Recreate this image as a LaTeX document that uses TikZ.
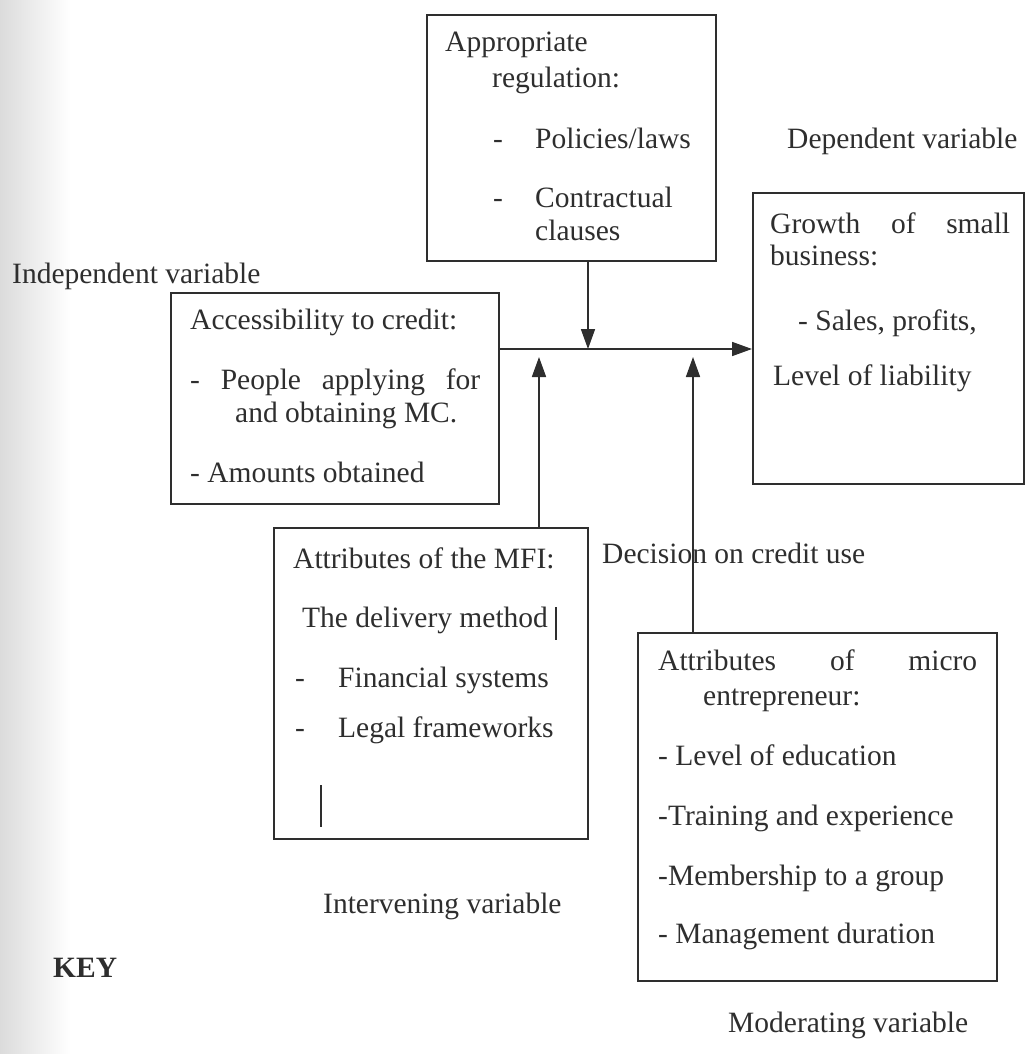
\documentclass[tikz,border=0pt]{standalone}
\usepackage{fontspec}
\setmainfont{Liberation Serif}
\usetikzlibrary{arrows.meta}
\definecolor{ink}{HTML}{2E2E2E}
\tikzset{
  txt/.style={anchor=base west, inner sep=0pt, text=ink, font=\fontsize{29.5}{34}\selectfont},
  frame/.style={draw=ink, line width=1.7pt, rectangle, inner sep=0pt, anchor=north west},
  conn/.style={draw=ink, line width=1.7pt},
  arr/.style={conn, -{Triangle[length=20pt,width=14pt]}}
}
\begin{document}
\begin{tikzpicture}[x=1pt,y=-1pt]
\useasboundingbox (0,0) rectangle (1026,1054);
\shade[left color=black!14, right color=white] (0,0) rectangle (70,1054);

% boxes
\node[frame, minimum width=289pt, minimum height=246pt] (reg) at (426,14) {};
\node[frame, minimum width=271pt, minimum height=291pt] (grow) at (752,192) {};
\node[frame, minimum width=328pt, minimum height=211pt] (acc) at (170,292) {};
\node[frame, minimum width=314pt, minimum height=311pt] (mfi) at (273,527) {};
\node[frame, minimum width=359pt, minimum height=348pt] (ent) at (637,632) {};

% regulation texts
\node[txt] (r1) at (445,52) {Appropriate};
\node[txt] (r2) at (492,88) {regulation:};
\node[txt] (r3) at (493,148) {\makebox[42pt][l]{-}Policies/laws};
\node[txt] (r4) at (493,207) {\makebox[42pt][l]{-}Contractual};
\node[txt] (r5) at (535,240) {clauses};

% dependent
\node[txt] (dep) at (787,148) {Dependent variable};
\node[txt] (g1) at (770,233) {\makebox[240pt][s]{Growth of small}};
\node[txt] (g2) at (770,265) {business:};
\node[txt] (g3) at (798,330) {- Sales, profits,};
\node[txt] (g4) at (773,385) {Level of liability};

% independent
\node[txt] (ind) at (12,283) {Independent variable};
\node[txt] (a1) at (190,329) {Accessibility to credit:};
\node[txt] (a2) at (190,389) {\makebox[290pt][s]{- People applying for}};
\node[txt] (a3) at (235,422) {and obtaining MC.};
\node[txt] (a4) at (190,482) {- Amounts obtained};

% MFI
\node[txt] (m1) at (293,568) {Attributes of the MFI:};
\node[txt] (m2) at (302,627) {The delivery method};
\node[txt] (m3) at (295,687) {\makebox[43pt][l]{-}Financial systems};
\node[txt] (m4) at (295,737) {\makebox[43pt][l]{-}Legal frameworks};
\coordinate (bar1t) at (556,607); \coordinate (bar1b) at (556,640);
\coordinate (bar2t) at (321,785); \coordinate (bar2b) at (321,827);
\draw[draw=ink, line width=1.4pt] (bar1t) -- (bar1b);
\draw[draw=ink, line width=1.4pt] (bar2t) -- (bar2b);
\node[txt] (int) at (323,913) {Intervening variable};
\node[txt, font=\fontsize{29.5}{34}\selectfont\bfseries] (key) at (53,977) {KEY};

% entrepreneur
\node[txt] (dec) at (602,563) {Decision on credit use};
\node[txt] (e1) at (658,670) {\makebox[319pt][s]{Attributes of micro}};
\node[txt] (e2) at (703,705) {entrepreneur:};
\node[txt] (e3) at (658,765) {- Level of education};
\node[txt] (e4) at (658,825) {-Training and experience};
\node[txt] (e5) at (658,885) {-Membership to a group};
\node[txt] (e6) at (658,943) {- Management duration};
\node[txt] (mod) at (728,1032) {Moderating variable};

% connectors
\coordinate (jd) at (588,349);
\coordinate (ju1) at (539,357);
\coordinate (ju2) at (693,357);
\draw[arr] (acc.east |- jd) -- (grow.west |- jd);
\draw[arr] (reg.south -| jd) -- (jd);
\draw[arr] (mfi.north -| ju1) -- (ju1);
\draw[arr] (ent.north -| ju2) -- (ju2);
\end{tikzpicture}
\end{document}
